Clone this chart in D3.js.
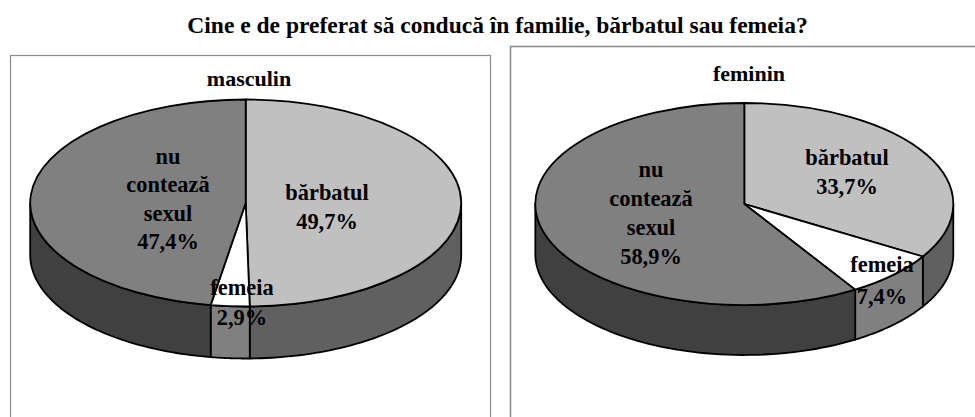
<!DOCTYPE html>
<html>
<head>
<meta charset="utf-8">
<script src="https://cdn.jsdelivr.net/npm/d3@7"></script>
<style>
  body { margin: 0; background: #fff; }
  text { font-family: "Liberation Serif", serif; font-weight: bold; fill: #000; }
</style>
</head>
<body>
<script>
const width = 975, height = 417;

const title = "Cine e de preferat să conducă în familie, bărbatul sau femeia?";
const categories = ["bărbatul", "femeia", "nu contează sexul"];
const masculin = [49.7, 2.9, 47.4];
const feminin = [33.7, 7.4, 58.9];

const topColor = d3.scaleOrdinal(categories, ["#c0c0c0", "#ffffff", "#808080"]);
const wallColor = d3.scaleOrdinal(categories, ["#606060", "#808080", "#404040"]);

const svg = d3.select("body").append("svg")
  .attr("width", width)
  .attr("height", height)
  .attr("viewBox", [0, 0, width, height])
  .style("display", "block");

svg.append("text")
  .attr("x", 497.5)
  .attr("y", 33)
  .attr("text-anchor", "middle")
  .style("font-size", "23.5px")
  .text(title);

// a flattened pie: the angle goes round clockwise from the top
function drawPie(o) {
  const g = svg.append("g");

  g.append("rect")
    .attr("x", o.frame[0] + 0.5)
    .attr("y", o.frame[1] + 0.5)
    .attr("width", o.frame[2])
    .attr("height", o.frame[3])
    .attr("fill", "#fff")
    .attr("stroke", "#8c8c8c")
    .attr("stroke-width", o.frameStroke);

  const arcs = d3.pie().sort(null).value(d => d.value)(
    categories.map((c, i) => ({ name: c, value: o.values[i] })));

  const px = a => o.cx + o.rx * Math.sin(a);
  const py = a => o.cy - o.ry * Math.cos(a);

  const wall = d3.area()
    .x(px)
    .y0(py)
    .y1(a => py(a) + o.depth);

  // only the front half of the rim shows
  arcs.forEach(d => {
    const a0 = Math.max(d.startAngle, Math.PI / 2);
    const a1 = Math.min(d.endAngle, Math.PI * 1.5);
    if (a1 <= a0) return;
    const angles = d3.range(0, 61).map(i => a0 + (a1 - a0) * i / 60);
    g.append("path")
      .attr("d", wall(angles))
      .attr("fill", wallColor(d.data.name))
      .attr("stroke", "#000")
      .attr("stroke-width", 1.8)
      .attr("stroke-linejoin", "round");
  });

  const arc = d3.arc().innerRadius(0).outerRadius(o.rx);
  g.append("g")
    .attr("transform", `translate(${o.cx},${o.cy}) scale(1,${o.ry / o.rx})`)
    .selectAll("path")
    .data(arcs)
    .join("path")
      .attr("d", arc)
      .attr("fill", d => topColor(d.data.name))
      .attr("stroke", "#000")
      .attr("stroke-width", 1.8)
      .attr("stroke-linejoin", "round")
      .attr("vector-effect", "non-scaling-stroke");

  g.append("text")
    .attr("x", o.name[1])
    .attr("y", o.name[2])
    .attr("text-anchor", "middle")
    .style("font-size", "22px")
    .text(o.name[0]);

  o.labels.forEach(l => {
    g.append("text")
      .attr("x", l.x)
      .attr("y", l.y)
      .attr("text-anchor", "middle")
      .style("font-size", "22.4px")
      .selectAll("tspan")
      .data(l.lines)
      .join("tspan")
        .attr("x", l.x)
        .attr("dy", (d, i) => i ? l.dy : 0)
        .text(d => d);
  });
}

const pct = v => v.toFixed(1).replace(".", ",") + "%";

drawPie({
  frame: [10, 55, 480, 380],
  frameStroke: 1.2,
  cx: 245.7, cy: 203, rx: 215.5, ry: 103.5, depth: 52,
  values: masculin,
  name: ["masculin", 249, 86],
  labels: [
    { x: 327, y: 200, dy: 29, lines: ["bărbatul", pct(masculin[0])] },
    { x: 242, y: 295, dy: 30, lines: ["femeia", pct(masculin[1])] },
    { x: 168, y: 164, dy: 28.4, lines: ["nu", "contează", "sexul", pct(masculin[2])] }
  ]
});

drawPie({
  frame: [510, 46, 480, 390],
  frameStroke: 1.6,
  cx: 744.3, cy: 204, rx: 209, ry: 101, depth: 50,
  values: feminin,
  name: ["feminin", 749, 81],
  labels: [
    { x: 847, y: 165, dy: 29, lines: ["bărbatul", pct(feminin[0])] },
    { x: 882, y: 272, dy: 32, lines: ["femeia", pct(feminin[1])] },
    { x: 651, y: 177, dy: 29, lines: ["nu", "contează", "sexul", pct(feminin[2])] }
  ]
});
</script>
</body>
</html>
